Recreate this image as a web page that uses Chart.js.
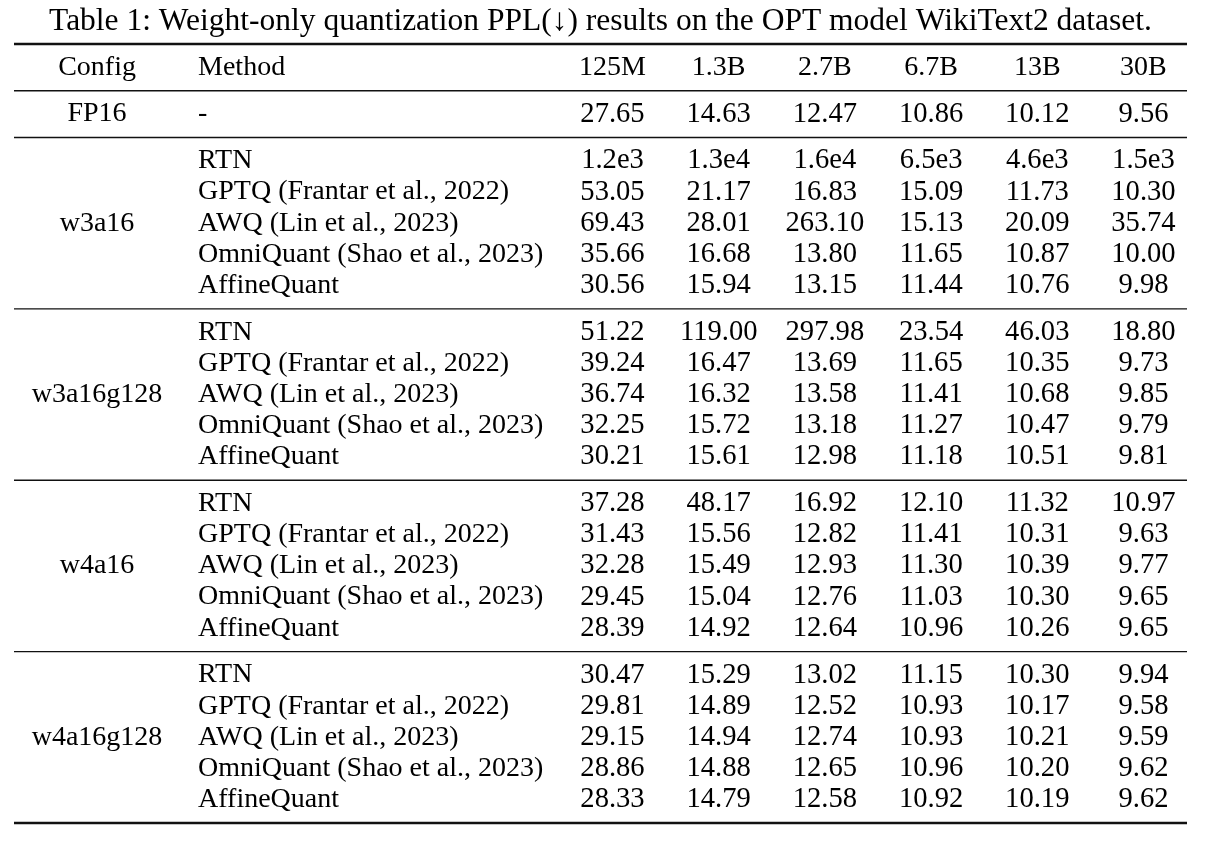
<!DOCTYPE html>
<html lang="en">
<head>
    <meta charset="UTF-8">
    <title>Weight-only quantization PPL</title>
    <script src="https://cdn.jsdelivr.net/npm/chart.js"></script>
    <style>
        html, body { margin: 0; padding: 0; background: #fff; }
        #wrap { width: 1212px; height: 843px; }
    </style>
</head>
<body>
    <div id="wrap"><canvas id="myChart"></canvas></div>

    <script>
        // table data
        const models = ['125M', '1.3B', '2.7B', '6.7B', '13B', '30B'];
        const configs = ['FP16', 'w3a16', 'w3a16g128', 'w4a16', 'w4a16g128'];
        const methods = ['RTN', 'GPTQ (Frantar et al., 2022)', 'AWQ (Lin et al., 2023)', 'OmniQuant (Shao et al., 2023)', 'AffineQuant'];

        const fp16 = [27.65, 14.63, 12.47, 10.86, 10.12, 9.56];

        const w3a16 = [
            [1200, 13000, 16000, 6500, 4600, 1500],
            [53.05, 21.17, 16.83, 15.09, 11.73, 10.30],
            [69.43, 28.01, 263.10, 15.13, 20.09, 35.74],
            [35.66, 16.68, 13.80, 11.65, 10.87, 10.00],
            [30.56, 15.94, 13.15, 11.44, 10.76, 9.98]
        ];
        const w3a16g128 = [
            [51.22, 119.00, 297.98, 23.54, 46.03, 18.80],
            [39.24, 16.47, 13.69, 11.65, 10.35, 9.73],
            [36.74, 16.32, 13.58, 11.41, 10.68, 9.85],
            [32.25, 15.72, 13.18, 11.27, 10.47, 9.79],
            [30.21, 15.61, 12.98, 11.18, 10.51, 9.81]
        ];
        const w4a16 = [
            [37.28, 48.17, 16.92, 12.10, 11.32, 10.97],
            [31.43, 15.56, 12.82, 11.41, 10.31, 9.63],
            [32.28, 15.49, 12.93, 11.30, 10.39, 9.77],
            [29.45, 15.04, 12.76, 11.03, 10.30, 9.65],
            [28.39, 14.92, 12.64, 10.96, 10.26, 9.65]
        ];
        const w4a16g128 = [
            [30.47, 15.29, 13.02, 11.15, 10.30, 9.94],
            [29.81, 14.89, 12.52, 10.93, 10.17, 9.58],
            [29.15, 14.94, 12.74, 10.93, 10.21, 9.59],
            [28.86, 14.88, 12.65, 10.96, 10.20, 9.62],
            [28.33, 14.79, 12.58, 10.92, 10.19, 9.62]
        ];

        const groups = [[fp16], w3a16, w3a16g128, w4a16, w4a16g128];

        // layout (in scale units)
        const CONFIG_X = -4.854;
        const METHOD_X = -3.903;
        const FONT = '"Liberation Serif", "Times New Roman", serif';
        const TEXT_SIZE = 28;
        const NUM_SIZE = 28.6;

        function fmt(v) {
            if (v >= 1000) return v.toExponential(1).replace('+', '');
            return v.toFixed(2);
        }

        // build rows: header at 0, each group separated by a rule
        const points = [];
        const rowLabels = [];   // {y, config, method}
        const rules = [];       // {y, thick}
        let y = 0;
        rules.push({ y: y - 0.75, thick: true });
        rowLabels.push({ y: y, config: 'Config', method: 'Method' });
        models.forEach((m, c) => points.push({ x: c, y: y, label: m, header: true }));
        groups.forEach((rows, g) => {
            rules.push({ y: y + 0.75, thick: false });
            y += 1.5;
            const mid = y + (rows.length - 1) / 2;
            rows.forEach((vals, r) => {
                const ry = y + r;
                rowLabels.push({ y: ry, method: g === 0 ? '-' : methods[r] });
                vals.forEach((v, c) => points.push({ x: c, y: ry, label: fmt(v) }));
            });
            rowLabels.push({ y: mid, config: configs[g] });
            y += rows.length - 1;
        });
        rules.push({ y: y + 0.75, thick: true });

        const tablePlugin = {
            id: 'tableText',
            afterDatasetsDraw(chart) {
                const ctx = chart.ctx;
                const xs = chart.scales.x, ys = chart.scales.y;
                const area = chart.chartArea;
                ctx.save();
                ctx.fillStyle = '#000';
                ctx.textBaseline = 'middle';

                // cells from the scatter points
                const meta = chart.getDatasetMeta(0);
                ctx.textAlign = 'center';
                meta.data.forEach((el, i) => {
                    ctx.font = (points[i].header ? TEXT_SIZE : NUM_SIZE) + 'px ' + FONT;
                    ctx.fillText(points[i].label, el.x, el.y);
                });

                ctx.font = TEXT_SIZE + 'px ' + FONT;
                rowLabels.forEach(r => {
                    const py = ys.getPixelForValue(r.y);
                    if (r.config) {
                        ctx.textAlign = 'center';
                        ctx.fillText(r.config, xs.getPixelForValue(CONFIG_X), py);
                    }
                    if (r.method) {
                        ctx.textAlign = 'left';
                        ctx.fillText(r.method, xs.getPixelForValue(METHOD_X), py);
                    }
                });

                // horizontal rules
                ctx.strokeStyle = '#111';
                rules.forEach(r => {
                    const py = ys.getPixelForValue(r.y);
                    ctx.lineWidth = r.thick ? 2.6 : 1.4;
                    ctx.beginPath();
                    ctx.moveTo(area.left, py);
                    ctx.lineTo(area.right, py);
                    ctx.stroke();
                });
                ctx.restore();
            }
        };

        const ctx = document.getElementById('myChart').getContext('2d');
        new Chart(ctx, {
            type: 'scatter',
            data: {
                datasets: [{
                    data: points.map(p => ({ x: p.x, y: p.y })),
                    pointRadius: 0,
                    pointHoverRadius: 0
                }]
            },
            options: {
                responsive: true,
                maintainAspectRatio: false,
                animation: false,
                layout: { padding: { left: 14, right: 25, top: 0, bottom: 20 } },
                plugins: {
                    legend: { display: false },
                    tooltip: { enabled: false },
                    title: {
                        display: true,
                        text: 'Table 1: Weight-only quantization PPL(↓) results on the OPT model WikiText2 dataset.',
                        color: '#000',
                        font: { family: FONT, size: 31.5, weight: 'normal', lineHeight: 1.2 },
                        padding: { top: 3, bottom: 3.2 }
                    }
                },
                scales: {
                    x: { type: 'linear', display: false, min: -5.636, max: 5.41 },
                    y: { type: 'linear', display: false, reverse: true, min: -0.75, max: y + 0.75 }
                }
            },
            plugins: [tablePlugin]
        });
    </script>
</body>
</html>
